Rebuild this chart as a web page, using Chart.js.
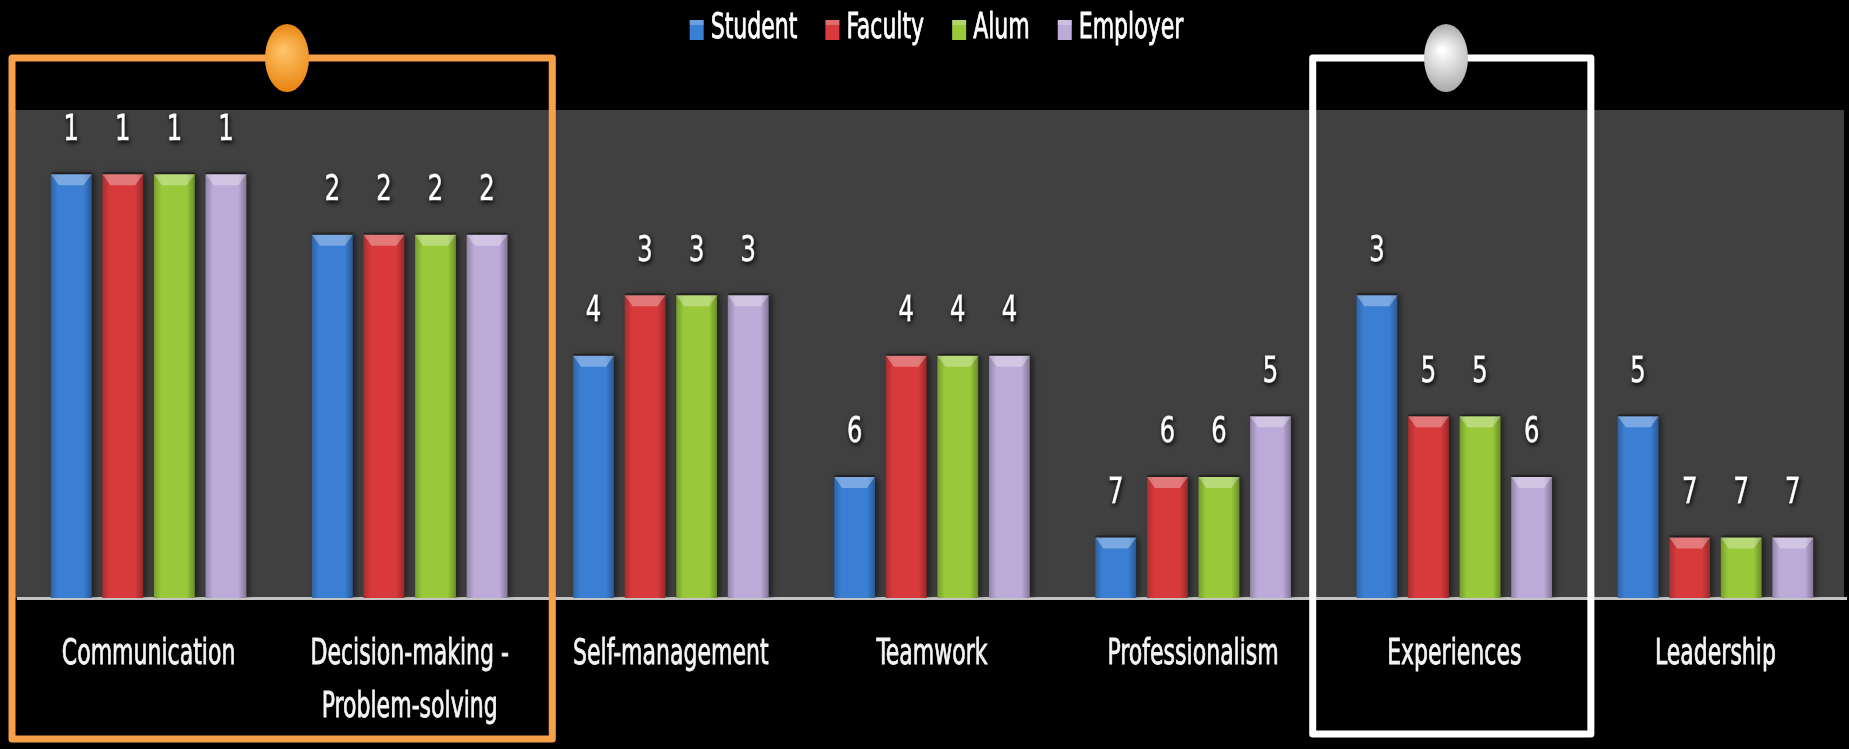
<!DOCTYPE html>
<html>
<head>
<meta charset="utf-8">
<script src="https://cdn.jsdelivr.net/npm/chart.js@4.4.1/dist/chart.umd.min.js"></script>
<style>
  html, body { margin: 0; padding: 0; background: #000; }
  #wrap { width: 1849px; height: 749px; position: relative; }
</style>
</head>
<body>
<div id="wrap"><canvas id="rankChart"></canvas></div>
<script>
const FONT = "'Liberation Sans Narrow', 'DejaVu Sans Condensed', 'Open Sans', sans-serif";
const SQUEEZE = 0.68; // the slide text is tall and narrow

// categories (x axis)
const skills = [
  'Communication',
  ['Decision-making -', 'Problem-solving'],
  'Self-management',
  'Teamwork',
  'Professionalism',
  'Experiences',
  'Leadership'
];

// rank given by each group (1 = most important)
const studentRanks  = [1, 2, 4, 6, 7, 3, 5];
const facultyRanks  = [1, 2, 3, 4, 6, 5, 7];
const alumRanks     = [1, 2, 3, 4, 6, 5, 7];
const employerRanks = [1, 2, 3, 4, 5, 6, 7];

const groupNames  = ['Student', 'Faculty', 'Alum', 'Employer'];
const groupColors = ['#3b7fd4', '#d83a3c', '#99c93a', '#bcaad8'];

const MAX_RANK = 7;
// bar height: rank 1 tallest, rank 7 shortest
const toHeight = r => MAX_RANK + 1 - r;

const allRanks = [studentRanks, facultyRanks, alumRanks, employerRanks];

// highlighted category boxes
const highlights = [
  { from: 0, to: 1, color: '#f6a04a', pin: ['#ffc266', '#e8830f'], pinX: 287, padL: 6, padR: 12, bottom: 739 },
  { from: 5, to: 5, color: '#ffffff', pin: ['#ffffff', '#a8a8a8'], pinX: 1446, padL: 11, padR: 6, bottom: 734 }
];

function squeezeText(ctx, text, x, y, sx) {
  ctx.save();
  ctx.translate(x, y);
  ctx.scale(sx, 1);
  ctx.strokeText(text, 0, 0);
  ctx.fillText(text, 0, 0);
  ctx.restore();
}

const plotBackground = {
  id: 'plotBackground',
  beforeDraw(chart) {
    const { ctx, chartArea } = chart;
    ctx.save();
    ctx.fillStyle = '#000';
    ctx.fillRect(0, 0, chart.width, chart.height);
    ctx.fillStyle = '#404040';
    ctx.fillRect(chartArea.left - 5, chartArea.top, chartArea.right - chartArea.left + 3, chartArea.bottom - chartArea.top);
    ctx.restore();
  }
};

const barStyle = {
  id: 'barStyle',
  beforeDatasetsDraw(chart) {
    const ctx = chart.ctx;
    ctx.save();
    ctx.shadowColor = 'rgba(0,0,0,0.55)';
    ctx.shadowBlur = 6;
    ctx.shadowOffsetX = 3;
    ctx.shadowOffsetY = 0;
  },
  afterDatasetsDraw(chart) {
    const ctx = chart.ctx;
    ctx.restore();
    ctx.save();
    chart.data.datasets.forEach((ds, i) => {
      chart.getDatasetMeta(i).data.forEach(bar => {
        const x0 = bar.x - bar.width / 2, x1 = bar.x + bar.width / 2;
        const top = bar.y, bottom = bar.base;
        const g = ctx.createLinearGradient(x0, 0, x1, 0);
        g.addColorStop(0, 'rgba(0,0,0,0.22)');
        g.addColorStop(0.18, 'rgba(0,0,0,0)');
        g.addColorStop(0.8, 'rgba(0,0,0,0)');
        g.addColorStop(1, 'rgba(0,0,0,0.3)');
        ctx.fillStyle = g;
        ctx.fillRect(x0, top, x1 - x0, bottom - top);
        // top bevel
        ctx.beginPath();
        ctx.moveTo(x0, top);
        ctx.lineTo(x1, top);
        ctx.lineTo(x1 - 8, top + 11);
        ctx.lineTo(x0 + 8, top + 11);
        ctx.closePath();
        ctx.fillStyle = 'rgba(255,255,255,0.32)';
        ctx.fill();
        ctx.fillStyle = 'rgba(0,0,0,0.35)';
        ctx.fillRect(x0, top - 2, x1 - x0, 2);
      });
    });
    // value labels (the rank)
    ctx.font = '36px ' + FONT;
    ctx.textAlign = 'center';
    ctx.textBaseline = 'middle';
    ctx.fillStyle = '#ffffff';
    ctx.strokeStyle = '#ffffff';
    ctx.lineWidth = 0.8;
    ctx.shadowColor = 'rgba(0,0,0,0.9)';
    ctx.shadowBlur = 4;
    ctx.shadowOffsetX = 1;
    ctx.shadowOffsetY = 2;
    chart.data.datasets.forEach((ds, i) => {
      chart.getDatasetMeta(i).data.forEach((bar, j) => {
        squeezeText(ctx, String(ds.ranks[j]), bar.x, bar.y - 44, 0.75);
      });
    });
    ctx.restore();
  }
};

// category names under the axis, placed with the x scale
const categoryLabels = {
  id: 'categoryLabels',
  afterDraw(chart) {
    const ctx = chart.ctx;
    const xs = chart.scales.x;
    ctx.save();
    ctx.font = '36px ' + FONT;
    ctx.textAlign = 'center';
    ctx.textBaseline = 'middle';
    ctx.fillStyle = '#f4f4f4';
    ctx.strokeStyle = '#f4f4f4';
    ctx.lineWidth = 0.8;
    chart.data.labels.forEach((lab, i) => {
      const lines = Array.isArray(lab) ? lab : [lab];
      const x = xs.getPixelForValue(i);
      lines.forEach((ln, k) => {
        squeezeText(ctx, ln, x, xs.top + 57 + k * 53, SQUEEZE);
      });
    });
    ctx.restore();
  }
};

const topLegend = {
  id: 'topLegend',
  afterDraw(chart) {
    const ctx = chart.ctx;
    ctx.save();
    ctx.font = '36px ' + FONT;
    ctx.textBaseline = 'middle';
    ctx.strokeStyle = '#ffffff';
    ctx.lineWidth = 0.8;
    const boxW = 14, boxH = 20, gap = 7, itemGap = 28;
    const items = chart.data.datasets.map(ds => ({ label: ds.label, color: ds.backgroundColor, w: ctx.measureText(ds.label).width * SQUEEZE }));
    const total = items.reduce((s, it) => s + boxW + gap + it.w, 0) + itemGap * (items.length - 1);
    let x = chart.width / 2 + 12 - total / 2;
    const cy = 29;
    items.forEach(it => {
      ctx.fillStyle = it.color;
      ctx.fillRect(x, cy - boxH / 2 + 1, boxW, boxH);
      ctx.fillStyle = 'rgba(255,255,255,0.25)';
      ctx.fillRect(x, cy - boxH / 2 + 1, boxW, 5);
      ctx.fillStyle = '#ffffff';
      ctx.textAlign = 'left';
      squeezeText(ctx, it.label, x + boxW + gap, cy, SQUEEZE);
      x += boxW + gap + it.w + itemGap;
    });
    ctx.restore();
  }
};

const highlightBoxes = {
  id: 'highlightBoxes',
  afterDraw(chart) {
    const ctx = chart.ctx;
    const xs = chart.scales.x;
    const catW = (xs.right - xs.left) / chart.data.labels.length;
    ctx.save();
    highlights.forEach(h => {
      const left = xs.getPixelForValue(h.from) - catW / 2 - h.padL;
      const right = xs.getPixelForValue(h.to) + catW / 2 + h.padR;
      const top = 58;
      ctx.strokeStyle = h.color;
      ctx.lineWidth = 7;
      ctx.lineJoin = 'round';
      ctx.beginPath();
      ctx.rect(left, top, right - left, h.bottom - top);
      ctx.stroke();
      // pin
      const cx = h.pinX, cy = 58;
      const g = ctx.createRadialGradient(cx - 4, cy - 8, 2, cx, cy, 34);
      g.addColorStop(0, h.pin[0]);
      g.addColorStop(1, h.pin[1]);
      ctx.fillStyle = g;
      ctx.beginPath();
      ctx.ellipse(cx, cy, 22, 34, 0, 0, Math.PI * 2);
      ctx.fill();
    });
    ctx.restore();
  }
};

new Chart(document.getElementById('rankChart'), {
  type: 'bar',
  data: {
    labels: skills,
    datasets: groupNames.map((name, i) => ({
      label: name,
      data: allRanks[i].map(toHeight),
      ranks: allRanks[i],
      backgroundColor: groupColors[i],
      borderWidth: 0,
      categoryPercentage: 0.79,
      barPercentage: 0.79
    }))
  },
  options: {
    responsive: true,
    maintainAspectRatio: false,
    animation: false,
    layout: { padding: { top: 110, left: 18, right: 3, bottom: 0 } },
    plugins: {
      legend: { display: false },
      tooltip: { enabled: false }
    },
    scales: {
      y: {
        display: false,
        min: 0,
        max: 8.06
      },
      x: {
        grid: { display: false, drawTicks: false },
        border: { display: true, color: '#c4c4c4', width: 3 },
        ticks: { display: false },
        afterFit(scale) {
          scale.height = 151;
        }
      }
    }
  },
  plugins: [plotBackground, barStyle, categoryLabels, topLegend, highlightBoxes]
});
</script>
</body>
</html>
